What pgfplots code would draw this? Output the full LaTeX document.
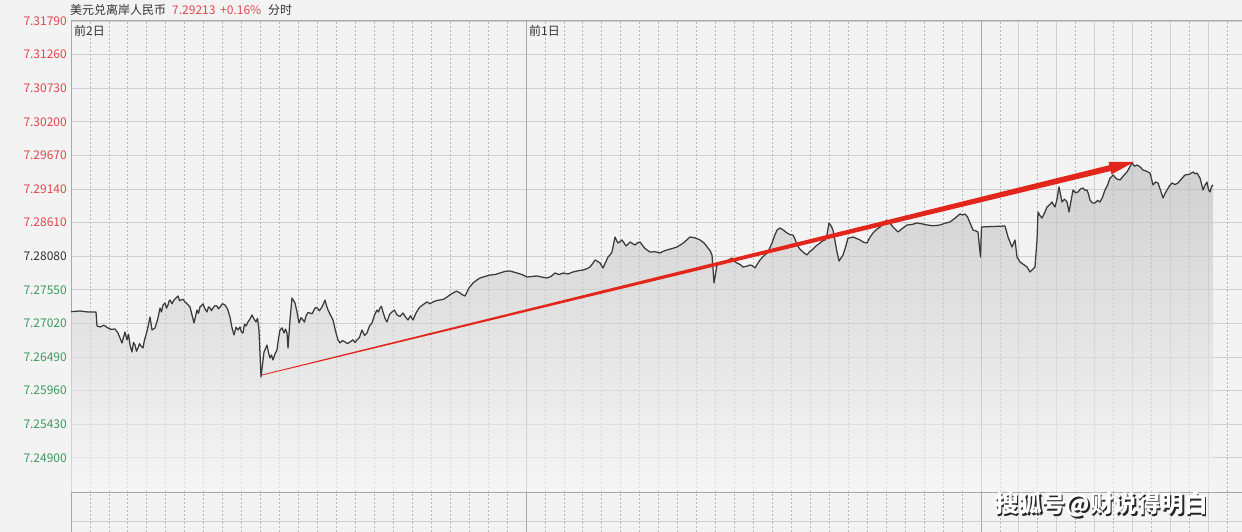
\documentclass[border=0pt]{standalone}
\usepackage{pgfplots}
\pgfplotsset{compat=1.18}
\usepackage{pgfplotstable}
\usepackage{fontspec}
\setmainfont{Noto Sans CJK SC}
\definecolor{bg}{HTML}{F3F3F3}
\definecolor{gridc}{HTML}{CFCFCF}
\definecolor{vgrid}{HTML}{B8B8B8}
\definecolor{dayc}{HTML}{A8A8A8}
\definecolor{upc}{HTML}{E0474C}
\definecolor{dnc}{HTML}{3C9A5F}
\definecolor{txtc}{HTML}{333333}
\definecolor{linec}{HTML}{3A3A3A}
\definecolor{arrowc}{HTML}{E3261C}

\pgfplotstableread{
x y
71 7.27205
80 7.27215
88 7.27200
96 7.27200
97 7.26979
100 7.26963
104 7.26990
108 7.26947
111 7.26925
115 7.26932
118 7.26869
120 7.26790
122 7.26711
123.5 7.26800
125 7.26884
127 7.26758
128.5 7.26850
130 7.26679
132 7.26569
133.5 7.26720
135 7.26679
136.5 7.26580
138 7.26632
139.5 7.26700
141 7.26663
143 7.26632
144.5 7.26760
146 7.26837
148 7.26963
150 7.27121
152 7.26916
155 7.26947
158 7.27105
160 7.27263
161.5 7.27200
163 7.27310
165 7.27342
166.5 7.27260
168 7.27310
169 7.27370
170 7.27389
172 7.27330
174 7.27389
176 7.27420
178 7.27452
179.5 7.27380
181 7.27389
183 7.27400
185 7.27358
187 7.27330
190 7.27279
192 7.27153
194 7.27026
197 7.27231
198.5 7.27180
200 7.27279
201.5 7.27300
203 7.27326
205 7.27250
207 7.27200
208.5 7.27280
210 7.27263
211.5 7.27220
213 7.27263
215 7.27300
217 7.27294
218.5 7.27250
220 7.27279
222.5 7.27330
225 7.27310
227.5 7.27250
230 7.27121
232 7.26950
234 7.26837
236 7.26960
238 7.26916
240 7.26963
241.5 7.26880
243 7.26869
244.5 7.27010
246 7.26979
248 7.27042
250 7.27090
252 7.27153
254 7.27090
256 7.27042
257.5 7.27100
259 7.26916
261 7.26174
264 7.26569
265.5 7.26620
267 7.26679
268.5 7.26560
270 7.26474
271.5 7.26520
273 7.26443
275 7.26540
277 7.26600
278.5 7.26780
280 7.26916
282 7.26950
284 7.26869
285.5 7.26930
287 7.26869
288 7.26632
290 7.27074
292 7.27421
295 7.27342
297 7.27200
299 7.27026
301 7.27110
303 7.27074
304.5 7.27040
306 7.27137
308 7.27190
310 7.27184
312 7.27170
314 7.27231
315.5 7.27270
317 7.27263
319.5 7.27220
322 7.27279
323.5 7.27330
325 7.27389
326.5 7.27300
328 7.27231
330.5 7.27150
333 7.27074
335.5 7.26900
338 7.26758
340 7.26711
342.5 7.26750
345 7.26727
347.5 7.26700
350 7.26727
353 7.26760
355 7.26720
357 7.26758
359.5 7.26800
362 7.26916
364.5 7.26830
367 7.26869
369.5 7.26980
372 7.27026
374.5 7.27150
377 7.27231
378.5 7.27200
380 7.27263
381.5 7.27290
383 7.27200
385 7.27100
387 7.27042
389.5 7.27160
392 7.27200
394.5 7.27230
397 7.27153
400 7.27130
403 7.27184
405.5 7.27120
408 7.27074
410.5 7.27140
413 7.27074
416.5 7.27200
420 7.27279
423.5 7.27320
427 7.27358
430 7.27330
433 7.27358
436.5 7.27380
440 7.27389
443.5 7.27400
447 7.27436
450 7.27470
453 7.27500
456.5 7.27530
460 7.27500
462.5 7.27470
465 7.27452
469 7.27580
473 7.27657
476.5 7.27700
480 7.27736
485 7.27760
490 7.27783
495 7.27790
500 7.27815
505 7.27840
510 7.27847
513.5 7.27830
517 7.27815
522 7.27790
527 7.27752
532 7.27760
537 7.27768
542 7.27750
547 7.27736
551 7.27760
555 7.27815
559 7.27790
563 7.27815
568 7.27800
573 7.27831
578 7.27850
583 7.27862
586.5 7.27880
590 7.27910
592.5 7.27960
595 7.28020
597.5 7.28000
600 7.27973
603 7.27894
605.5 7.27980
608 7.28067
610 7.28100
612 7.28146
615 7.28383
616.5 7.28330
618 7.28288
620 7.28310
622 7.28336
624 7.28290
626 7.28241
628 7.28270
630 7.28304
632.5 7.28280
635 7.28257
637.5 7.28290
640 7.28304
645 7.28200
650 7.28146
655 7.28150
660 7.28130
663.5 7.28160
667 7.28178
672 7.28200
677 7.28225
683.5 7.28290
690 7.28383
695 7.28370
700 7.28336
704 7.28290
708 7.28209
710 7.28170
712 7.28099
714 7.27657
717 7.27941
720 7.27960
723 7.27989
727.5 7.28010
732 7.28052
734.5 7.28000
737 7.27973
740 7.27950
743 7.27910
746.5 7.27920
750 7.27941
752.5 7.27930
755 7.27894
757.5 7.27960
760 7.28020
763.5 7.28080
767 7.28130
769.5 7.28200
772 7.28288
774.5 7.28400
777 7.28493
780 7.28525
783.5 7.28490
787 7.28446
790 7.28420
793 7.28414
795 7.28350
797 7.28257
800 7.28190
803 7.28146
805 7.28120
807 7.28099
809.5 7.28150
812 7.28178
816 7.28240
820 7.28288
822.5 7.28320
825 7.28336
827 7.28420
829 7.28604
831 7.28560
833 7.28493
837 7.28146
839 7.28004
843 7.28099
845.5 7.28220
848 7.28367
850.5 7.28370
853 7.28383
856.5 7.28360
860 7.28336
863.5 7.28300
867 7.28288
870 7.28380
873 7.28446
876.5 7.28500
880 7.28541
883.5 7.28600
887 7.28651
890 7.28600
893 7.28541
895.5 7.28500
898 7.28462
902.5 7.28520
907 7.28572
912 7.28580
917 7.28604
922 7.28590
927 7.28572
933.5 7.28560
940 7.28572
945 7.28600
950 7.28619
955 7.28680
960 7.28746
962.5 7.28730
965 7.28746
967.5 7.28700
970 7.28604
971.5 7.28550
973 7.28493
975.5 7.28480
978 7.28462
980.5 7.28067
981.5 7.28541
1005 7.28556
1008 7.28383
1012 7.28225
1015 7.28336
1017 7.28067
1020 7.27989
1027 7.27910
1030 7.27831
1035 7.27910
1037 7.28336
1038 7.28777
1040 7.28720
1042 7.28682
1044.5 7.28760
1047 7.28856
1049.5 7.28890
1052 7.28935
1053.5 7.28890
1055 7.28856
1057 7.28980
1059 7.29172
1060.5 7.29050
1062 7.28935
1064.5 7.28980
1067 7.28935
1069 7.28777
1071 7.28950
1073 7.29124
1075.5 7.29080
1078 7.29093
1080.5 7.29140
1083 7.29156
1085 7.29120
1087 7.29124
1088.5 7.29060
1090 7.28966
1092.5 7.28920
1095 7.28919
1097.5 7.28960
1100 7.28935
1102.5 7.29010
1105 7.29124
1107.5 7.29200
1110 7.29313
1111.5 7.29330
1113 7.29361
1116.5 7.29300
1120 7.29282
1123.5 7.29350
1127 7.29408
1129.5 7.29480
1132 7.29550
1134.5 7.29500
1137 7.29519
1140 7.29490
1143 7.29440
1146.5 7.29420
1150 7.29392
1151.5 7.29300
1153 7.29203
1155.5 7.29250
1158 7.29235
1160.5 7.29120
1163 7.28998
1165 7.29070
1167 7.29124
1169.5 7.29190
1172 7.29235
1175 7.29210
1178 7.29235
1181.5 7.29300
1185 7.29361
1189 7.29370
1193 7.29408
1195 7.29380
1197 7.29392
1198.5 7.29350
1200 7.29313
1201.5 7.29220
1203 7.29124
1205 7.29200
1207 7.29250
1208.5 7.29130
1210 7.29093
1211.5 7.29180
1213 7.29203
}\pricedata

\begin{document}
\begin{tikzpicture}[x=1pt,y=1pt]
\useasboundingbox (0,0) rectangle (1242,532);
\fill[bg] (0,0) rectangle (1242,532);
\begin{axis}[
  at={(71pt,0pt)}, anchor=south west,
  scale only axis, width=1171pt, height=511pt,
  xmin=71, xmax=1242, ymin=7.237295, ymax=7.3179,
  axis line style={draw=none},
  xtick=\empty,
  ytick={7.249,7.2543,7.2596,7.2649,7.2702,7.2755,7.2808,7.2861,7.2914,7.2967,7.302,7.3073,7.3126,7.3179},
  yticklabels={\textcolor{dnc}{7.24900},\textcolor{dnc}{7.25430},\textcolor{dnc}{7.25960},\textcolor{dnc}{7.26490},\textcolor{dnc}{7.27020},\textcolor{dnc}{7.27550},\textcolor{txtc}{7.28080},\textcolor{upc}{7.28610},\textcolor{upc}{7.29140},\textcolor{upc}{7.29670},\textcolor{upc}{7.30200},\textcolor{upc}{7.30730},\textcolor{upc}{7.31260},\textcolor{upc}{7.31790}},
  /pgf/number format/assume math mode=true,
  yticklabel style={anchor=east, inner sep=0pt, xshift=-4pt, font=\fontsize{12}{14}\selectfont},
  major tick length=0pt,
  ymajorgrids, major grid style={gridc, line width=0.9pt},
  clip=false,
]
% vertical hour lines
\pgfplotsinvokeforeach{1,...,23,25,26,...,47,49,51,53,55,57,59,61}{
  \draw[vgrid, line width=0.8pt, dash pattern=on 2pt off 2pt] (axis cs:{71+#1*18.958},7.237295) -- (axis cs:{71+#1*18.958},7.3179);
}
\pgfplotsinvokeforeach{50,52,54,56,58,60}{
  \draw[gridc, line width=0.9pt] (axis cs:{71+#1*18.958},7.237295) -- (axis cs:{71+#1*18.958},7.3179);
}
\draw[dayc, line width=1pt] (axis cs:526,7.237295) -- (axis cs:526,7.3179);
\draw[dayc, line width=1pt] (axis cs:981,7.237295) -- (axis cs:981,7.3179);
% panel separators
\draw[dayc, line width=1.6pt] (axis cs:71,7.24353) -- (axis cs:1242,7.24353);
\draw[gridc, line width=0.9pt] (axis cs:71,7.23903) -- (axis cs:1242,7.23903);
% borders
\draw[dayc, line width=1pt] (axis cs:71,7.237295) -- (axis cs:71,7.3179) -- (axis cs:1242,7.3179);
% area
\addplot[draw=none, fill opacity=0.6, top color=black!27, bottom color=black!3] table[x=x,y=y] {\pricedata} -- (axis cs:1213,7.2437) -- (axis cs:71,7.2437) -- cycle;
% price line
\addplot[linec, line width=1.25pt, line join=round] table[x=x,y=y] {\pricedata};
\end{axis}
% arrow annotation
\fill[arrowc] (261.9,157.4) -- (1109.3,366.8) -- (1108.5,370.2) -- (1134,370) -- (1111.5,357.6) -- (1110.7,361.0) -- (262.1,156.6) -- cycle;
% header
\node[anchor=west, inner sep=0pt, text=txtc, font=\fontsize{12}{14}\selectfont] at (70,522) {美元兑离岸人民币};
\node[anchor=west, inner sep=0pt, text=upc, font=\fontsize{12}{14}\selectfont] at (172,522) {7.29213};
\node[anchor=west, inner sep=0pt, text=upc, font=\fontsize{12}{14}\selectfont] at (220,522) {+0.16\%};
\node[anchor=west, inner sep=0pt, text=txtc, font=\fontsize{12}{14}\selectfont] at (268,522) {分时};
\node[anchor=west, inner sep=0pt, text=txtc, font=\fontsize{12}{14}\selectfont] at (74,501) {前2日};
\node[anchor=west, inner sep=0pt, text=txtc, font=\fontsize{12}{14}\selectfont] at (529,501) {前1日};
% watermark
\node[anchor=west, inner sep=0pt, text=black!85, font=\fontsize{23.5}{26}\selectfont\bfseries] at (996.5,25.5) {搜狐号@财说得明白};
\node[anchor=west, inner sep=0pt, text=white, font=\fontsize{23.5}{26}\selectfont\bfseries] at (995,27) {搜狐号@财说得明白};
\end{tikzpicture}
\end{document}
